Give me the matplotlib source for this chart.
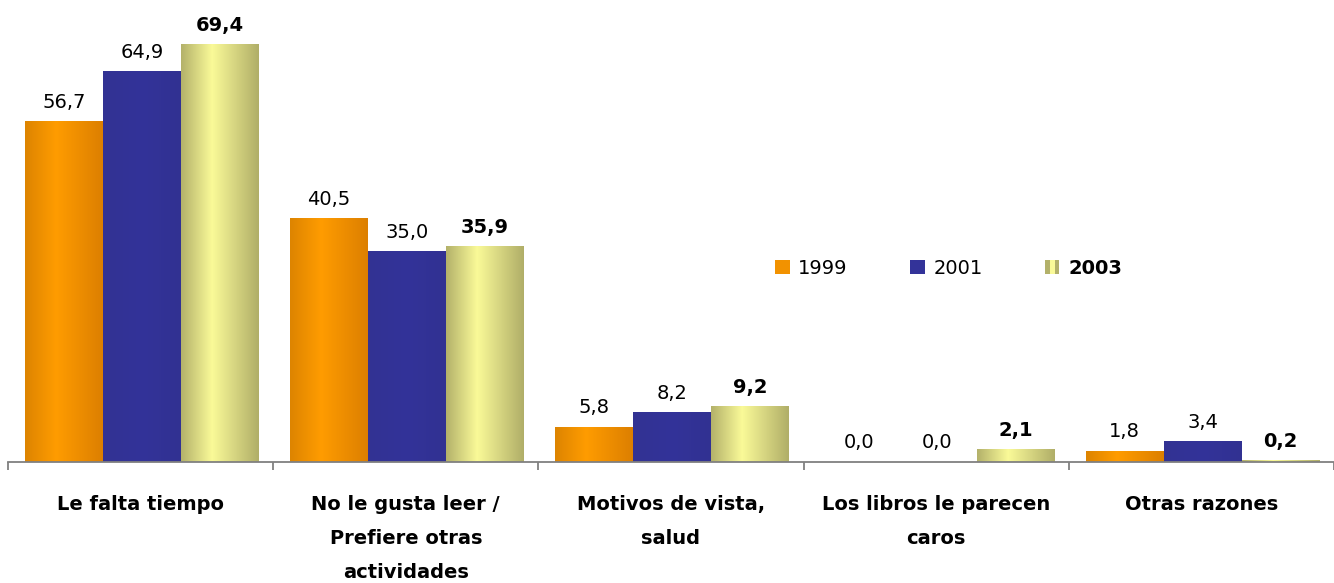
import numpy as np
import matplotlib.pyplot as plt
from matplotlib.colors import LinearSegmentedColormap
from matplotlib.patches import Patch
from matplotlib.legend_handler import HandlerTuple

### DATA ###
categories = ['Le falta tiempo',
              'No le gusta leer /\nPrefiere otras\nactividades',
              'Motivos de vista,\nsalud',
              'Los libros le parecen\ncaros',
              'Otras razones']
years = ['1999', '2001', '2003']
v1999 = [56.7, 40.5, 5.8, 0.0, 1.8]
v2001 = [64.9, 35.0, 8.2, 0.0, 3.4]
v2003 = [69.4, 35.9, 9.2, 2.1, 0.2]

### STYLE ###
cmaps = [
    LinearSegmentedColormap.from_list('o', [(0, '#DD8400'), (0.4, '#FF9C00'), (1, '#DC7F00')]),
    LinearSegmentedColormap.from_list('b', [(0, '#323293'), (0.5, '#333399'), (1, '#313192')]),
    LinearSegmentedColormap.from_list('y', [(0, '#B3B16A'), (0.4, '#FAFA98'), (1, '#B0AE68')]),
]
W = 1334 / 100
H = 583 / 100
fig = plt.figure(figsize=(W, H), dpi=100)
ax = fig.add_axes([8 / 1334, (583 - 462) / 583, 1326 / 1334, 462 / 583])

x = np.arange(len(categories))
bw = 0.294
grad = np.linspace(0, 1, 256).reshape(1, -1)
series = [v1999, v2001, v2003]

for i, vals in enumerate(series):
    pos = x + (i - 1) * bw + 0.005
    bars = ax.bar(pos, vals, bw, facecolor='none', linewidth=0)
    for b, v in zip(bars, vals):
        x0 = b.get_x()
        if v > 0:
            ax.imshow(grad, extent=[x0, x0 + bw, 0, v], aspect='auto',
                      cmap=cmaps[i], zorder=2, interpolation='bicubic')
        lbl = ('%.1f' % v).replace('.', ',')
        ax.annotate(lbl, (x0 + bw / 2, v), xytext=(0, 7), textcoords='offset points',
                    ha='center', va='bottom', fontsize=14,
                    fontweight='bold' if i == 2 else 'normal', color='black')

ax.set_xlim(-0.5, -0.5 + 1326 / 267)
ax.set_ylim(0, 462 / 6.01)

### AXES ###
for s in ['top', 'right', 'left']:
    ax.spines[s].set_visible(False)
ax.spines['bottom'].set_color('#808080')
ax.spines['bottom'].set_linewidth(1.3)
ax.spines['bottom'].set_zorder(5)
ax.set_yticks([])
ax.set_xticks(np.arange(-0.5, 5, 1))
ax.set_xticklabels([])
ax.tick_params(axis='x', which='major', length=6, width=1.3, color='#808080')
ax.set_xticks(x, minor=True)
ax.set_xticklabels(categories, minor=True, fontsize=14, fontweight='bold')
ax.tick_params(axis='x', which='minor', length=0, pad=24)
for t in ax.get_xticklabels(minor=True):
    t.set_linespacing(2.0)

### LEGEND ###
h1 = Patch(facecolor='#F29200')
h2 = Patch(facecolor='#333399')
h3 = (Patch(facecolor='#B3B16A'), Patch(facecolor='#FAFA98'), Patch(facecolor='#B3B16A'))
leg = fig.legend([h1, h2, h3], years, loc='center left',
                 bbox_to_anchor=(775 / 1334, 1 - 268 / 583), ncol=3, frameon=False,
                 fontsize=14, handlelength=0.75, handleheight=0.75, handletextpad=0.45,
                 columnspacing=3.2, borderpad=0, borderaxespad=0,
                 handler_map={tuple: HandlerTuple(ndivide=None, pad=0)})
leg.get_texts()[2].set_fontweight('bold')

plt.savefig('out.png', dpi=100)
